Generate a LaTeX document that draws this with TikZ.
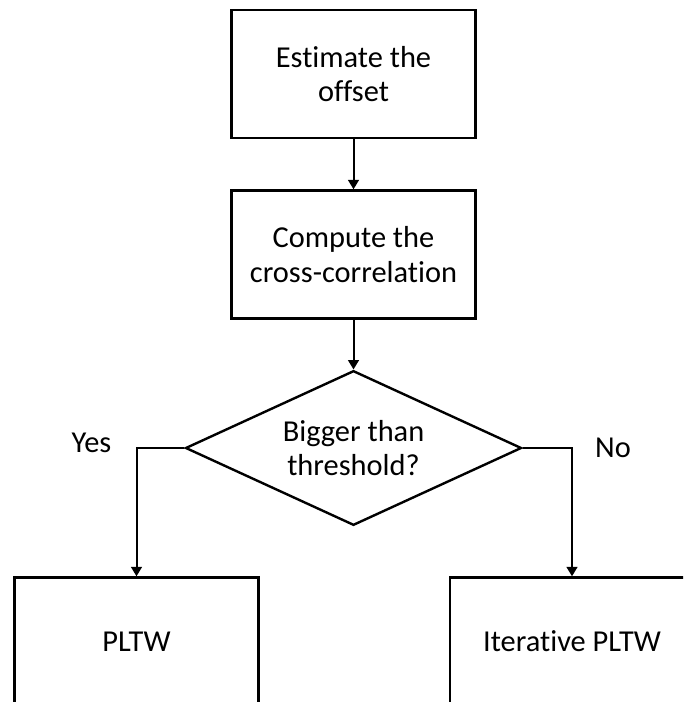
\documentclass[tikz,border=0pt]{standalone}
\usepackage{fontspec}
\setmainfont[Ligatures={NoCommon}]{Carlito}
\usepackage{tikz}
\usetikzlibrary{shapes.geometric, arrows.meta, positioning}

\begin{document}
\begin{tikzpicture}[x=0.75pt, y=-0.75pt, font=\fontsize{22.8}{26}\selectfont,
    procbox/.style={draw, line width=1.8pt, minimum width=183pt, minimum height=96pt, align=center, inner sep=0pt},
    decbox/.style={draw, diamond, shape aspect=2.17, line width=1.8pt, minimum width=252pt, minimum height=116pt, align=center, inner sep=0pt},
    flow/.style={line width=1.5pt, -{Triangle[width=8pt, length=7pt]}}]
    % Canvas (pixel units)
    \useasboundingbox (0,0) rectangle (683,702);
    \clip (0,0) rectangle (683,702);

    % Process boxes
    \node[procbox] (offset) at (353.5, 74) {Estimate the\\offset};
    \node[procbox] (xcorr) at (353.5, 254.5) {Compute the\\cross-correlation};

    % Decision
    \node[decbox] (thresh) at (353.5, 448) {Bigger than\\threshold?};

    % Outcomes (cut off at the bottom)
    \node[procbox] (pltw) at (136.5, 641.5) {PLTW};
    \node[procbox] (iter) at (572, 641.5) {Iterative PLTW};

    % Branch labels
    \node (yes) at (91.5, 443) {Yes};
    \node (no) at (613, 448) {No};

    % Connectors
    \draw[flow] (offset) -- (xcorr);
    \draw[flow] (xcorr) -- (thresh);
    \draw[flow] (thresh.west) -| (pltw.north);
    \draw[flow] (thresh.east) -| (iter.north);
\end{tikzpicture}
\end{document}
